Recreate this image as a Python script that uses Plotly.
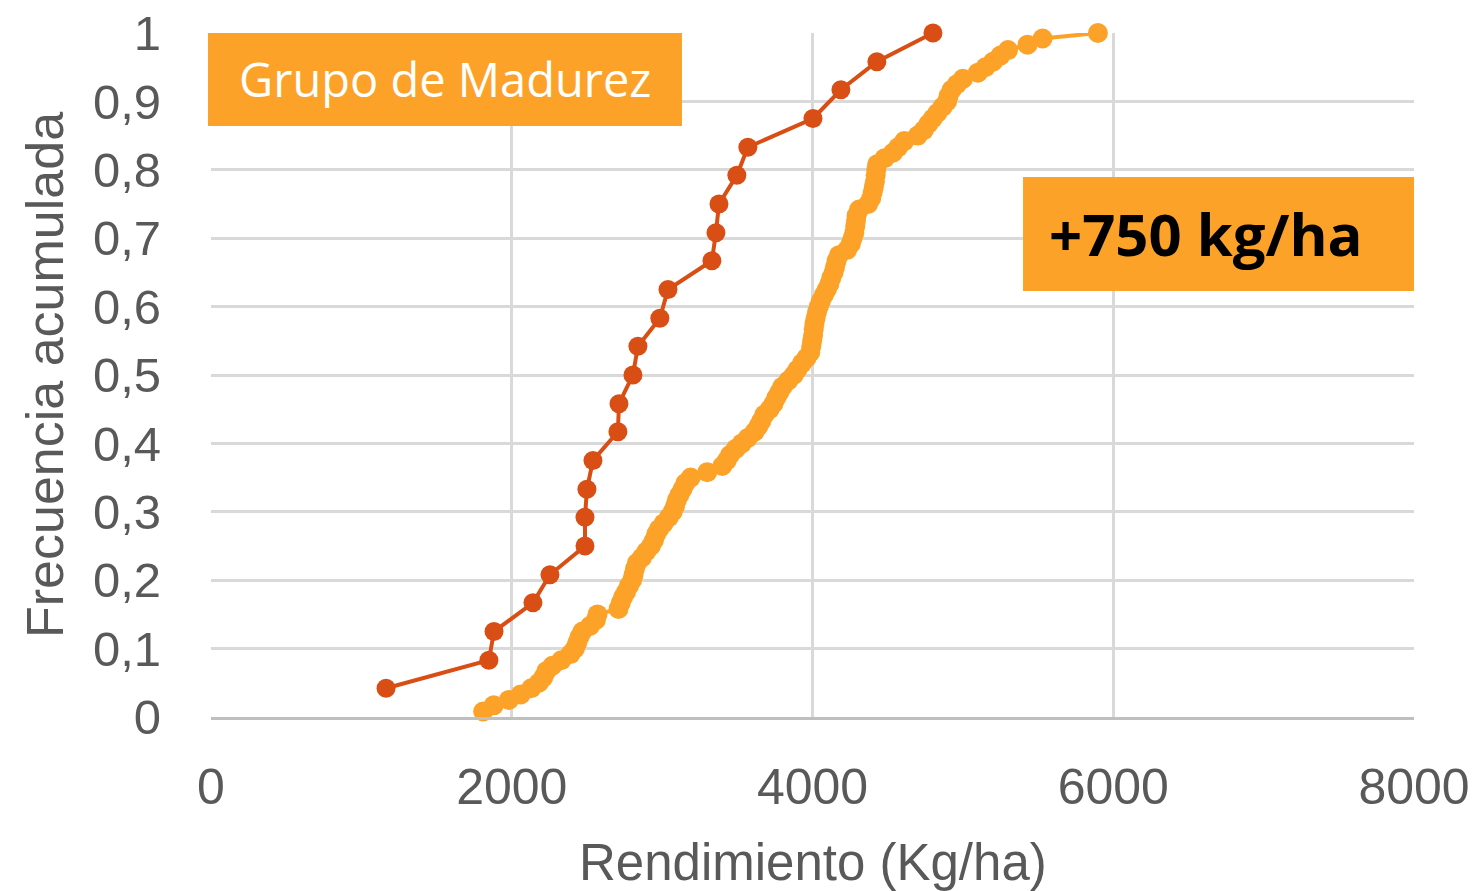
import plotly.graph_objects as go

# Dark series (early maturity group)
dark_x = [1164, 1848, 1882, 2141, 2254, 2487, 2487, 2500, 2540, 2706, 2713, 2806,
          2839, 2985, 3039, 3331, 3358, 3378, 3497, 3570, 4003, 4189, 4428, 4801]
dark_y = [0.042, 0.083, 0.125, 0.167, 0.208, 0.25, 0.292, 0.333, 0.375, 0.417, 0.458, 0.5,
          0.542, 0.583, 0.625, 0.667, 0.708, 0.75, 0.792, 0.833, 0.875, 0.917, 0.958, 1.0]

# Light series
light_x = [1810, 1880, 1981, 2060, 2130, 2180, 2210, 2230, 2270, 2330,
           2390, 2420, 2435, 2450, 2470, 2520, 2560, 2570, 2710, 2725,
           2740, 2760, 2780, 2800, 2810, 2820, 2832, 2865, 2895, 2925,
           2945, 2960, 2980, 3010, 3045, 3070, 3085, 3098, 3115, 3135,
           3155, 3190, 3300, 3400, 3430, 3451, 3490, 3530, 3570, 3615,
           3640, 3660, 3680, 3715, 3740, 3760, 3780, 3800, 3840, 3875,
           3900, 3930, 3960, 3985, 3992, 3998, 4004, 4008, 4013, 4020,
           4030, 4042, 4055, 4075, 4095, 4112, 4125, 4140, 4150, 4160,
           4175, 4230, 4255, 4266, 4278, 4284, 4289, 4293, 4310, 4370,
           4390, 4400, 4408, 4415, 4420, 4424, 4430, 4480, 4535, 4570,
           4610, 4700, 4740, 4770, 4800, 4830, 4865, 4895, 4905, 4925,
           4960, 5000, 5100, 5150, 5200, 5250, 5300, 5430, 5530, 5898]
light_y = [0.008, 0.017, 0.025, 0.033, 0.042, 0.05, 0.058, 0.067, 0.075, 0.083,
           0.092, 0.1, 0.108, 0.117, 0.125, 0.133, 0.142, 0.15, 0.158, 0.167,
           0.175, 0.183, 0.192, 0.2, 0.208, 0.217, 0.225, 0.233, 0.242, 0.25,
           0.258, 0.267, 0.275, 0.283, 0.292, 0.3, 0.308, 0.317, 0.325, 0.333,
           0.342, 0.35, 0.358, 0.367, 0.375, 0.383, 0.392, 0.4, 0.408, 0.417,
           0.425, 0.433, 0.442, 0.45, 0.458, 0.467, 0.475, 0.483, 0.492, 0.5,
           0.508, 0.517, 0.525, 0.533, 0.542, 0.55, 0.558, 0.567, 0.575, 0.583,
           0.592, 0.6, 0.608, 0.617, 0.625, 0.633, 0.642, 0.65, 0.658, 0.667,
           0.675, 0.683, 0.692, 0.7, 0.708, 0.717, 0.725, 0.733, 0.742, 0.75,
           0.758, 0.767, 0.775, 0.783, 0.792, 0.8, 0.808, 0.817, 0.825, 0.833,
           0.842, 0.85, 0.858, 0.867, 0.875, 0.883, 0.892, 0.9, 0.908, 0.917,
           0.925, 0.933, 0.942, 0.95, 0.958, 0.967, 0.975, 0.983, 0.992, 1.0]

x_ticks = [0, 2000, 4000, 6000, 8000]
y_ticks = [0, 0.1, 0.2, 0.3, 0.4, 0.5, 0.6, 0.7, 0.8, 0.9, 1]
y_tick_labels = ["0", "0,1", "0,2", "0,3", "0,4", "0,5", "0,6", "0,7", "0,8", "0,9", "1"]

DARK = "#D94E14"
LIGHT = "#FDA228"
GRAY = "#595959"

fig = go.Figure()
fig.add_trace(go.Scatter(x=light_x, y=light_y, mode="lines+markers",
                         line=dict(color=LIGHT, width=4),
                         marker=dict(color=LIGHT, size=20), showlegend=False,
                         cliponaxis=False))
fig.add_trace(go.Scatter(x=dark_x, y=dark_y, mode="lines+markers",
                         line=dict(color=DARK, width=4),
                         marker=dict(color=DARK, size=19), showlegend=False,
                         cliponaxis=False))

fig.update_layout(
    width=1468, height=883,
    margin=dict(l=203, r=62, t=25, b=174, autoexpand=False),
    plot_bgcolor="white", paper_bgcolor="white",
    font=dict(family="Liberation Sans, Arial, sans-serif", color=GRAY),
    xaxis=dict(range=[0, 8000], tickvals=x_ticks, showgrid=True, gridcolor="#D9D9D9",
               gridwidth=2.5, zeroline=False, showline=True, linecolor="#BFBFBF",
               linewidth=2.5, tickfont=dict(size=50, color=GRAY), automargin=False,
               ticks="", ticklabelstandoff=24, ticklabeloverflow="allow"),
    yaxis=dict(range=[0, 1], tickvals=y_ticks, ticktext=y_tick_labels, showgrid=True,
               gridcolor="#D9D9D9", gridwidth=2.5, zeroline=False, showline=False,
               automargin=False, ticklabeloverflow="allow",
               tickfont=dict(size=49, color=GRAY), ticks="", ticklabelstandoff=49),
    shapes=[
        dict(type="rect", xref="paper", yref="paper", x0=-0.0025, x1=0.3915,
             y0=0.864, y1=1.0, fillcolor=LIGHT, line=dict(width=0), layer="above"),
        dict(type="rect", xref="paper", yref="paper", x0=0.675, x1=1.0,
             y0=0.6228, y1=0.7895, fillcolor=LIGHT, line=dict(width=0), layer="above"),
    ],
    annotations=[
        dict(text="Grupo de Madurez", xref="paper", yref="paper", x=0.1945, y=0.933,
             xanchor="center", yanchor="middle", showarrow=False,
             font=dict(family="Open Sans", size=47, color="white")),
        dict(text="<b>+750 kg/ha</b>", xref="paper", yref="paper", x=0.827, y=0.7076,
             xanchor="center", yanchor="middle", showarrow=False,
             font=dict(family="Open Sans", size=58, color="black")),
        dict(text="Rendimiento (Kg/ha)", xref="paper", yref="paper", x=0.5, y=-0.212,
             xanchor="center", yanchor="middle", showarrow=False,
             font=dict(size=51, color=GRAY)),
        dict(text="Frecuencia acumulada", xref="paper", yref="paper", x=-0.138, y=0.5,
             xanchor="center", yanchor="middle", showarrow=False, textangle=-90,
             font=dict(size=52, color=GRAY)),
    ],
)

fig.write_html("out.html")
